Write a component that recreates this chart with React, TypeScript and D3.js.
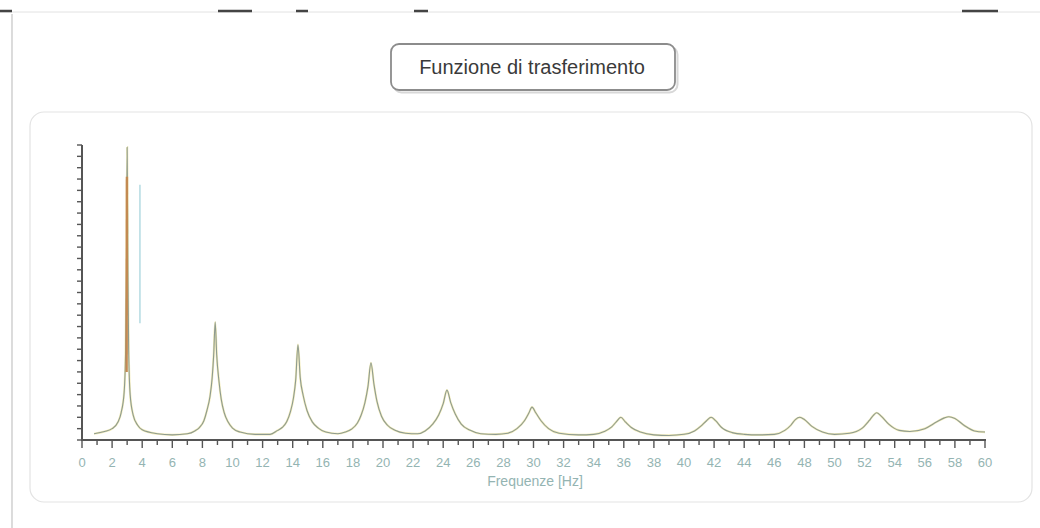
import { useEffect, useRef } from 'react';
import * as d3 from 'd3';

// Frequenza [Hz] / ampiezza (unità di tacca asse y)
const FREQ = [
  0.8, 1.5, 2.0, 2.4, 2.6, 2.8, 2.9, 2.95, 3.0, 3.05, 3.1, 3.2, 3.4, 3.7, 4.0, 5.0, 6.0, 7.0,
  7.5, 7.8, 8.1, 8.3, 8.5, 8.65, 8.75, 8.85, 8.95, 9.1, 9.25, 9.45, 9.7, 10.0, 10.5, 11.5, 12.5,
  13.0, 13.3, 13.6, 13.85, 14.05, 14.2, 14.35, 14.5, 14.7, 14.95, 15.3, 15.7, 16.2, 17.0,
  17.5, 17.9, 18.3, 18.55, 18.8, 19.0, 19.2, 19.4, 19.6, 19.9, 20.3, 20.8, 21.5, 22.3,
  22.8, 23.3, 23.7, 24.0, 24.25, 24.5, 24.8, 25.2, 25.8, 26.5, 27.5,
  28.3, 28.9, 29.4, 29.7, 29.9, 30.15, 30.5, 31.0, 31.7, 33.0, 34.0,
  34.7, 35.2, 35.5, 35.8, 36.1, 36.5, 37.1, 38.0, 39.0, 40.0,
  40.7, 41.1, 41.5, 41.8, 42.1, 42.5, 43.2, 44.0, 45.0, 46.0,
  46.7, 47.1, 47.4, 47.7, 48.0, 48.5, 49.2, 50.0, 51.0,
  51.8, 52.3, 52.6, 52.8, 53.1, 53.6, 54.3, 55.0, 56.0,
  56.8, 57.3, 57.6, 58.0, 58.6, 59.3, 60.0,
];
const AMPIEZZA = [
  0.55, 0.75, 1.0, 1.6, 2.4, 4.2, 8.0, 15.0, 25.8, 15.0, 8.0, 4.0, 2.2, 1.3, 0.9, 0.55, 0.45, 0.55,
  0.8, 1.1, 1.7, 2.6, 3.8, 5.5, 7.5, 10.4, 7.5, 5.2, 3.6, 2.4, 1.6, 1.05, 0.7, 0.5, 0.5,
  0.85, 1.1, 1.6, 2.5, 3.7, 5.3, 8.4, 5.5, 3.9, 2.6, 1.6, 1.05, 0.7, 0.55,
  0.7, 0.95, 1.5, 2.2, 3.3, 4.7, 6.8, 4.9, 3.4, 2.1, 1.3, 0.85, 0.6, 0.55,
  0.8, 1.4, 2.2, 3.2, 4.4, 3.3, 2.3, 1.4, 0.85, 0.55, 0.5,
  0.6, 1.0, 1.7, 2.4, 2.9, 2.4, 1.7, 1.0, 0.6, 0.45, 0.5,
  0.75, 1.15, 1.6, 2.0, 1.6, 1.1, 0.7, 0.45, 0.4, 0.5,
  0.8, 1.2, 1.7, 2.0, 1.7, 1.1, 0.65, 0.5, 0.45, 0.5,
  0.85, 1.3, 1.8, 2.0, 1.8, 1.2, 0.7, 0.5, 0.6,
  1.0, 1.7, 2.2, 2.4, 2.1, 1.4, 0.85, 0.75, 1.0,
  1.6, 1.95, 2.05, 1.9, 1.3, 0.8, 0.7,
];

// tratto arancio del primo picco
const PICCO_FREQ = [2.965, 2.985];
const PICCO_AMP = [6.0, 23.2];

// traccia azzurra verticale
const MARKER_FREQ = [3.85, 3.85];
const MARKER_AMP = [10.3, 22.5];

const X_TICKS = d3.range(0, 61, 1);
const X_LABELS = d3.range(0, 61, 2);
const Y_TICKS = d3.range(0, 27, 1);

const TITLE = 'Funzione di trasferimento';
const X_TITLE = 'Frequenze [Hz]';

const W = 1040;
const H = 528;

export default function App() {
  const ref = useRef<SVGSVGElement>(null);

  useEffect(() => {
    if (!ref.current) return;
    const svg = d3.select(ref.current);
    svg.selectAll('*').remove();

    const x = d3.scaleLinear().domain([0, 60]).range([82, 985]);
    const y = d3.scaleLinear().domain([0, 26]).range([440, 145]);

    // cornice pagina
    svg.append('line').attr('x1', 12).attr('x2', 12).attr('y1', 14).attr('y2', H)
      .attr('stroke', '#c4c4c4').attr('stroke-width', 1.2);
    svg.append('line').attr('x1', 0).attr('x2', W).attr('y1', 12).attr('y2', 12)
      .attr('stroke', '#e2e2e2').attr('stroke-width', 1);
    const frags: [number, number][] = [[0, 12], [218, 252], [296, 308], [414, 428], [962, 998]];
    frags.forEach(([a, b]) => {
      svg.append('line').attr('x1', a).attr('x2', b).attr('y1', 11).attr('y2', 11)
        .attr('stroke', '#444').attr('stroke-width', 2.5);
    });

    // pannello
    svg.append('rect').attr('x', 30).attr('y', 112).attr('width', 1002).attr('height', 390)
      .attr('rx', 14).attr('fill', '#fff').attr('stroke', '#e3e3e3').attr('stroke-width', 1.2);

    // titolo
    svg.append('rect').attr('x', 392).attr('y', 45).attr('width', 284).attr('height', 46)
      .attr('rx', 8).attr('fill', 'none').attr('stroke', '#d8d8d8').attr('stroke-width', 2)
      .attr('transform', 'translate(1.5,1.5)');
    svg.append('rect').attr('x', 391).attr('y', 44).attr('width', 284).attr('height', 46)
      .attr('rx', 8).attr('fill', '#fff').attr('stroke', '#8c8c8c').attr('stroke-width', 1.8);
    svg.append('text').attr('x', 532).attr('y', 74).attr('text-anchor', 'middle')
      .attr('font-family', 'Liberation Sans, Arial, sans-serif').attr('font-size', 20)
      .attr('fill', '#3a3a3a').text(TITLE);

    // assi
    const axG = svg.append('g');
    axG.selectAll('line.xt').data(X_TICKS).enter().append('line')
      .attr('x1', d => x(d)).attr('x2', d => x(d))
      .attr('y1', 440).attr('y2', d => (d % 2 === 0 ? 448 : 445))
      .attr('stroke', '#555').attr('stroke-width', 1.4);
    axG.selectAll('line.yt').data(Y_TICKS).enter().append('line')
      .attr('x1', 77).attr('x2', 82)
      .attr('y1', d => y(d)).attr('y2', d => y(d))
      .attr('stroke', '#555').attr('stroke-width', 1.4);
    axG.append('line').attr('x1', 82).attr('x2', x(60) + 1).attr('y1', 440).attr('y2', 440)
      .attr('stroke', '#555').attr('stroke-width', 2);
    axG.append('line').attr('x1', 82).attr('x2', 82).attr('y1', y(26)).attr('y2', 441)
      .attr('stroke', '#555').attr('stroke-width', 2);

    axG.selectAll('text.xl').data(X_LABELS).enter().append('text')
      .attr('x', d => x(d)).attr('y', 467).attr('text-anchor', 'middle')
      .attr('font-family', 'Liberation Sans, Arial, sans-serif').attr('font-size', 13)
      .attr('fill', '#94b4b2').text(d => String(d));
    axG.append('text').attr('x', 535).attr('y', 486).attr('text-anchor', 'middle')
      .attr('font-family', 'Liberation Sans, Arial, sans-serif').attr('font-size', 14)
      .attr('fill', '#94b4b2').text(X_TITLE);

    // curve
    const pts = FREQ.map((f, i) => [f, AMPIEZZA[i]] as [number, number]);
    const line = d3.line<[number, number]>()
      .x(d => x(d[0])).y(d => y(d[1]))
      .curve(d3.curveMonotoneX);

    svg.append('path').attr('d', line(pts)).attr('fill', 'none')
      .attr('stroke', '#efe6a2').attr('stroke-width', 2.2).attr('opacity', 0.75);
    svg.append('path').attr('d', line(pts)).attr('fill', 'none')
      .attr('stroke', '#8e9b90').attr('stroke-width', 1.1);

    const straight = d3.line<[number, number]>().x(d => x(d[0])).y(d => y(d[1]));
    const picco = PICCO_FREQ.map((f, i) => [f, PICCO_AMP[i]] as [number, number]);
    svg.append('path').attr('d', straight(picco)).attr('fill', 'none')
      .attr('stroke', '#c38a52').attr('stroke-width', 2.4);
    const marker = MARKER_FREQ.map((f, i) => [f, MARKER_AMP[i]] as [number, number]);
    svg.append('path').attr('d', straight(marker)).attr('fill', 'none')
      .attr('stroke', '#b9dde4').attr('stroke-width', 1.6);
  }, []);

  return (
    <svg
      ref={ref}
      width={W}
      height={H}
      style={{ position: 'absolute', left: 0, top: 0, background: '#fff' }}
    />
  );
}
